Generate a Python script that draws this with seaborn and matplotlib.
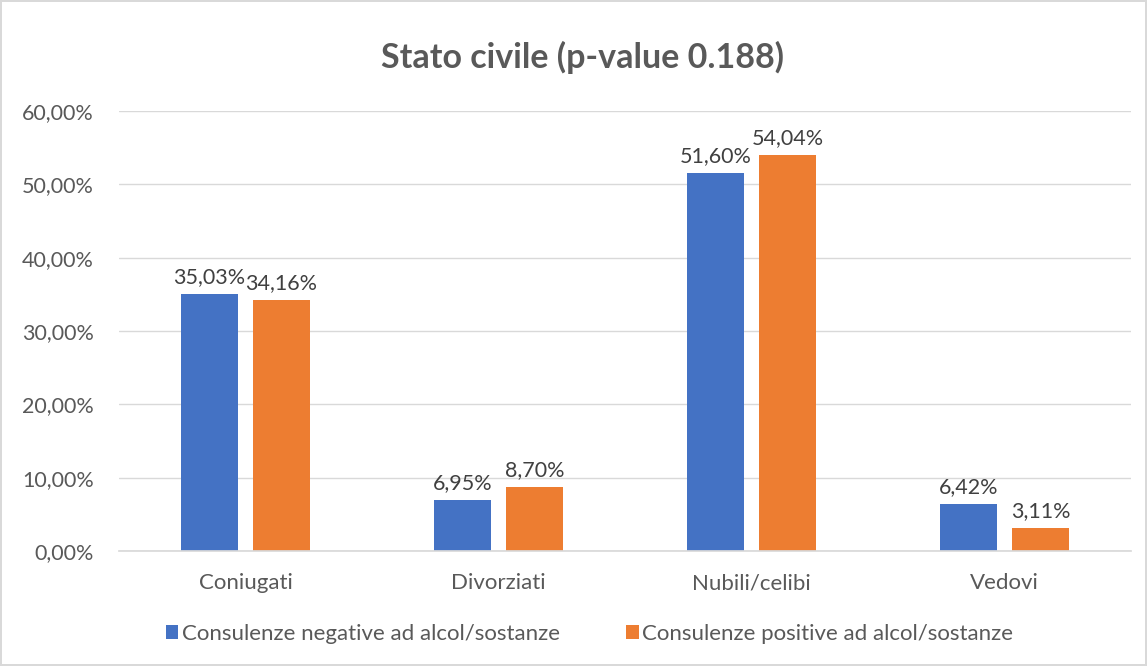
import matplotlib
matplotlib.use("Agg")
import matplotlib.pyplot as plt
import seaborn as sns
import pandas as pd

categories = ["Coniugati", "Divorziati", "Nubili/celibi", "Vedovi"]
series_names = ["Consulenze negative ad alcol/sostanze", "Consulenze positive ad alcol/sostanze"]
negative = [35.03, 6.95, 51.60, 6.42]
positive = [34.16, 8.70, 54.04, 3.11]
yticks = [0, 10, 20, 30, 40, 50, 60]
title = "Stato civile (p-value 0.188)"

df = pd.DataFrame({
    "cat": categories * 2,
    "serie": [series_names[0]] * 4 + [series_names[1]] * 4,
    "val": negative + positive,
})

sns.set_theme(style="white")
plt.rcParams["font.family"] = ["Lato", "DejaVu Sans"]

txt = "#595959"
fig = plt.figure(figsize=(11.47, 6.66), dpi=100, linewidth=1.5, edgecolor="#D9D9D9")
ax = fig.add_axes([0.1037, 0.1727, 0.8823, 0.6606])

sns.barplot(data=df, x="cat", y="val", hue="serie", order=categories,
            hue_order=series_names, palette=["#4472C4", "#ED7D31"], saturation=1,
            width=0.569, gap=0.208, linewidth=0, ax=ax, legend=True)

for cont in ax.containers:
    ax.bar_label(cont, labels=[f"{v:.2f}%".replace(".", ",") for v in cont.datavalues],
                 padding=5, fontsize=15.5, color="#404040")

ax.set_ylim(0, 60)
ax.set_xlim(-0.5, 3.5)
ax.set_yticks(yticks)
ax.set_yticklabels([f"{v:.2f}%".replace(".", ",") for v in yticks], fontsize=15.5, color=txt)
ax.tick_params(axis="x", labelsize=16, labelcolor=txt, length=0, pad=16)
ax.tick_params(axis="y", length=0, pad=18)
ax.grid(axis="y", color="#D9D9D9", linewidth=1)
ax.set_axisbelow(True)
for s in ["top", "right", "left"]:
    ax.spines[s].set_visible(False)
ax.spines["bottom"].set_color("#D9D9D9")
ax.set_xlabel("")
ax.set_ylabel("")

h, l = ax.get_legend_handles_labels()
ax.legend_.remove()
fig.legend(h, l, loc="center", bbox_to_anchor=(0.514, 0.048), ncol=2, frameon=False,
           fontsize=16, handlelength=0.55, handleheight=0.55, columnspacing=3.0,
           handletextpad=0.15, labelcolor=txt)

fig.text(0.508, 0.914, title, ha="center", va="center", fontsize=24.5,
         fontweight="bold", color=txt)

fig.savefig("out.png", dpi=100, edgecolor=fig.get_edgecolor())
